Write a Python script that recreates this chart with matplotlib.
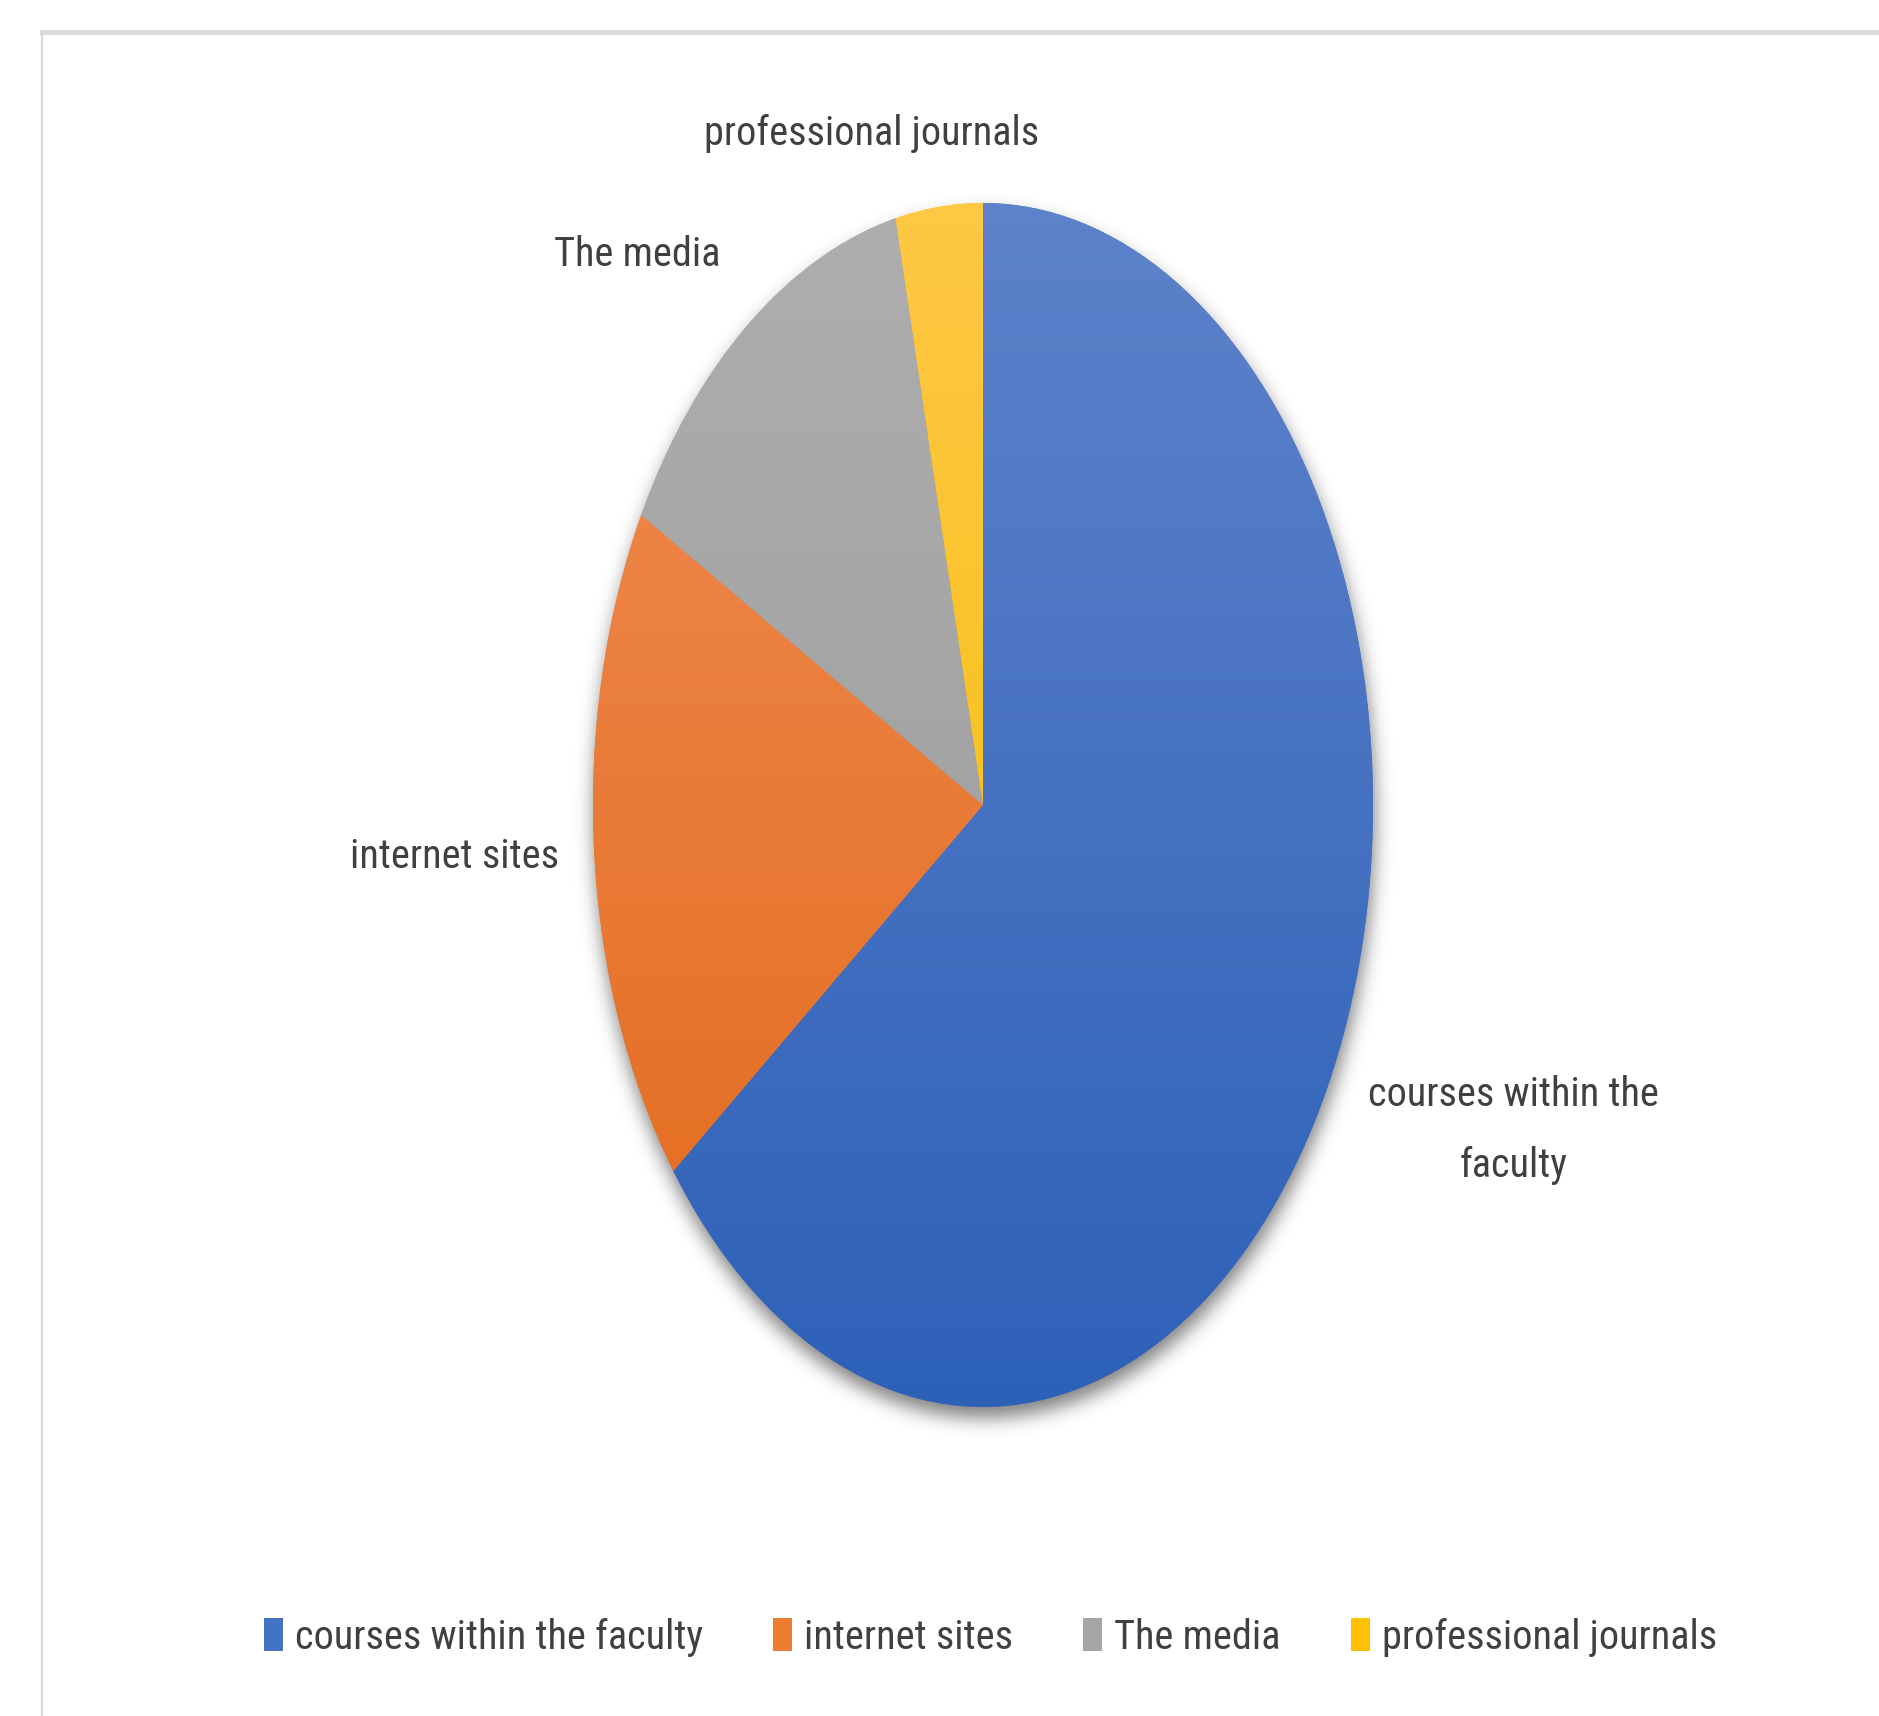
""" Sources of information - pie chart """
import numpy as np
import matplotlib
matplotlib.use("Agg")
import matplotlib.pyplot as plt
from matplotlib import font_manager
from matplotlib.colors import to_rgb
from matplotlib.patches import Patch
from matplotlib.lines import Line2D

# pick a narrow face if one is installed
installed = {f.name for f in font_manager.fontManager.ttflist}
family = 'DejaVu Sans'
for cand in ['Liberation Sans Narrow', 'Roboto Condensed', 'Open Sans Condensed',
             'DejaVu Sans Condensed', 'Noto Sans Condensed']:
    if cand in installed:
        family = cand
        break
plt.rcParams['font.family'] = [family, 'DejaVu Sans']

# data
categories = ['courses within the faculty', 'internet sites', 'The media', 'professional journals']
shares = [64.6, 18.4, 13.4, 3.6]
top_colors = ['#5E82CB', '#F18D55', '#AEAEAE', '#FFC845']
bottom_colors = ['#2D61B8', '#E2691A', '#999999', '#F2BB00']
mid_colors = ['#4472C4', '#ED7D31', '#A5A5A5', '#FFC000']
label_xy = [(1.36, -0.54), (-1.356, -0.085), (-0.887, 0.914), (-0.285, 1.115)]
label_text = ['courses within the\nfaculty', 'internet sites', 'The media', 'professional journals']

W, H = 1879, 1716
fig = plt.figure(figsize=(W / 100, H / 100), dpi=100)

# font size so that the legend's first entry is ~410 px wide, as in the chart
r = fig.canvas.get_renderer()
probe = fig.text(0, 0, categories[0], fontsize=30)
fs = 30 * 408 / probe.get_window_extent(r).width
probe.remove()
fs_px = fs * 100 / 72

# pie axes (ellipse: 390px wide radius, 602px tall radius)
cx, cy = 983, 805
rx, ry = 390, 602
lim = 1.25
ax_w, ax_h = 2 * lim * rx, 2 * lim * ry
ax = fig.add_axes([(cx - ax_w / 2) / W, (H - cy - ax_h / 2) / H, ax_w / W, ax_h / H])

wedges, texts = ax.pie(shares, colors=mid_colors, startangle=90, counterclock=False,
                       labels=label_text, wedgeprops=dict(linewidth=0),
                       textprops=dict(fontsize=fs, color='#404040'))
ax.set_aspect('auto')
ax.set_xlim(-lim, lim)
ax.set_ylim(-lim, lim)
ax.axis('off')

for t, (x, y) in zip(texts, label_xy):
    t.set_position((x, y))
    t.set_ha('center')
    t.set_va('center')
    t.set_linespacing(2.05)

# gradient fill for each slice
n = 256
for w, c1, c2 in zip(wedges, top_colors, bottom_colors):
    a = np.array(to_rgb(c1))
    b = np.array(to_rgb(c2))
    f = np.linspace(0, 1, n)[:, None]
    grad = (a * (1 - f) + b * f)[:, None, :]
    im = ax.imshow(grad, extent=(-1, 1, -1, 1), aspect='auto', zorder=w.get_zorder() + 0.1,
                   interpolation='bilinear')
    im.set_clip_path(w)

# soft shadow under the pie
gh, gw = int(ax_h), int(ax_w)
yy, xx = np.mgrid[0:gh, 0:gw]
px = (xx - gw / 2) / rx
py = (yy - gh / 2 - 11) / ry
mask = ((px ** 2 + py ** 2) <= 1).astype(float)
sig = 9
k = np.exp(-0.5 * (np.arange(-3 * sig, 3 * sig + 1) / sig) ** 2)
k /= k.sum()
blur = np.apply_along_axis(lambda row: np.convolve(row, k, mode='same'), 1, mask)
blur = np.apply_along_axis(lambda col: np.convolve(col, k, mode='same'), 0, blur)
shadow = np.zeros((gh, gw, 4))
shadow[..., :3] = 0.25
shadow[..., 3] = blur * 0.65
ax.imshow(shadow, extent=(-lim, lim, -lim, lim), aspect='auto', zorder=0, origin='upper')

# legend
handles = [Patch(facecolor=c, edgecolor='none') for c in mid_colors]
fig.legend(handles, categories, loc='center left', bbox_to_anchor=(264 / W, 1 - 1637 / H),
           ncol=4, frameon=False, fontsize=fs, labelcolor='#404040', borderpad=0,
           borderaxespad=0, handlelength=19 / fs_px, handleheight=36 / fs_px,
           handletextpad=12 / fs_px, columnspacing=70 / fs_px)

# chart frame
fig.add_artist(Line2D([42 / W, 1], [1 - 32 / H, 1 - 32 / H], color='#D9D9D9', linewidth=3.6))
fig.add_artist(Line2D([42 / W, 42 / W], [0, 1 - 32 / H], color='#D9D9D9', linewidth=1.5))

fig.savefig('out.png', dpi=100)
